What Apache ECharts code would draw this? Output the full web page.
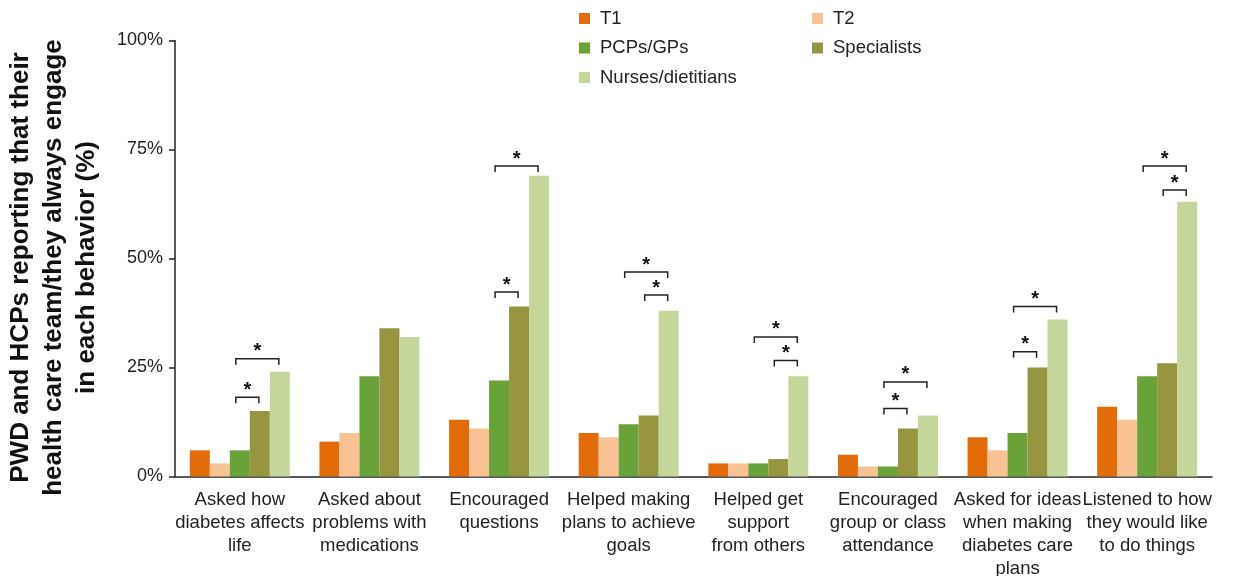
<!DOCTYPE html>
<html>
<head>
<meta charset="utf-8">
<script src="https://cdn.jsdelivr.net/npm/echarts@6/dist/echarts.min.js"></script>
<style>
  html, body { margin: 0; padding: 0; background: #fff; }
  #chart { width: 1235px; height: 576px; }
</style>
</head>
<body>
<div id="chart"></div>
<script>
// categories (x axis)
var behaviors = [
  'Asked how\ndiabetes affects\nlife',
  'Asked about\nproblems with\nmedications',
  'Encouraged\nquestions',
  'Helped making\nplans to achieve\ngoals',
  'Helped get\nsupport\nfrom others',
  'Encouraged\ngroup or class\nattendance',
  'Asked for ideas\nwhen making\ndiabetes care\nplans',
  'Listened to how\nthey would like\nto do things'
];
var seriesNames = ['T1', 'T2', 'PCPs/GPs', 'Specialists', 'Nurses/dietitians'];

// values in %
var t1 = [6, 8, 13, 10, 3, 5, 9, 16];
var t2 = [3, 10, 11, 9, 3, 2.3, 6, 13];
var pcps = [6, 23, 22, 12, 3, 2.3, 10, 23];
var specialists = [15, 34, 39, 14, 4, 11, 25, 26];
var nurses = [24, 32, 69, 38, 23, 14, 36, 63];

var yTicks = [0, 25, 50, 75, 100];

// significance brackets: category index, from bar, to bar (0..4), height in %
var bracketCat = [0, 0, 2, 2, 3, 3, 4, 4, 5, 5, 6, 6, 7, 7];
var bracketFrom = [2, 2, 2, 2, 2, 3, 2, 3, 2, 2, 2, 2, 2, 3];
var bracketTo = [3, 4, 3, 4, 4, 4, 4, 4, 3, 4, 3, 4, 4, 4];
var bracketY = [18.2, 27, 42.3, 71.2, 46.9, 41.6, 32, 26.6, 15.6, 21.7, 28.6, 39, 71.2, 65.7];

var colors = ['#E26B0A', '#F9C293', '#68A239', '#979540', '#C4D79B'];
var barW = 20;
var font = 'Liberation Sans, Arial, sans-serif';

var values = [t1, t2, pcps, specialists, nurses];
var barSeries = values.map(function (v, i) {
  return {
    name: seriesNames[i],
    type: 'bar',
    data: v,
    barWidth: barW,
    barGap: '0%',
    itemStyle: { color: colors[i] }
  };
});

var bracketData = bracketCat.map(function (c, i) {
  return [c, bracketFrom[i], bracketTo[i], bracketY[i]];
});

function renderBracket(params, api) {
  var c = api.value(0);
  var p = api.coord([c, api.value(3)]);
  var x1 = p[0] + (api.value(1) - 2) * barW - 4;
  var x2 = p[0] + (api.value(2) - 2) * barW - 1;
  var y = p[1];
  return {
    type: 'group',
    children: [
      {
        type: 'polyline',
        shape: { points: [[x1, y + 6], [x1, y], [x2, y], [x2, y + 6]] },
        style: { stroke: '#222', lineWidth: 1.5, fill: null }
      },
      {
        type: 'text',
        style: {
          text: '*', x: (x1 + x2) / 2, y: y - 7,
          align: 'center', verticalAlign: 'middle',
          font: 'bold 20px ' + font, fill: '#111'
        }
      }
    ]
  };
}

var legendCommon = {
  orient: 'vertical', top: 9, padding: 0,
  itemWidth: 11, itemHeight: 11, itemGap: 10.5, icon: 'rect',
  textStyle: { fontSize: 18.5, color: '#222', padding: [0, 0, 0, 5] }
};

var chart = echarts.init(document.getElementById('chart'));
chart.setOption({
  animation: false,
  textStyle: { fontFamily: font },
  grid: { left: 175, right: 23, top: 40.5, bottom: 99.5, outerBoundsMode: 'none' },
  legend: [
    Object.assign({ data: ['T1', 'PCPs/GPs', 'Nurses/dietitians'], left: 579 }, legendCommon),
    Object.assign({ data: ['T2', 'Specialists'], left: 812 }, legendCommon)
  ],
  xAxis: {
    type: 'category',
    data: behaviors,
    axisLine: { lineStyle: { color: '#222', width: 1.5 } },
    axisTick: { length: 6, lineStyle: { color: '#222', width: 1.5 } },
    axisLabel: { interval: 0, fontSize: 18.5, color: '#222', lineHeight: 23, margin: 12 }
  },
  yAxis: {
    type: 'value',
    min: yTicks[0], max: yTicks[yTicks.length - 1], interval: 25,
    name: 'PWD and HCPs reporting that their\nhealth care team/they always engage\nin each behavior (%)',
    nameLocation: 'middle', nameGap: 72,
    nameTextStyle: { fontSize: 26, fontWeight: 'bold', color: '#111', lineHeight: 33, padding: [0, 18, 0, 0] },
    axisLine: { show: true, lineStyle: { color: '#222', width: 1.5 } },
    axisTick: { show: true, length: 6, lineStyle: { color: '#222', width: 1.5 } },
    axisLabel: { formatter: '{value}%', fontSize: 18, color: '#222', margin: 12 },
    splitLine: { show: false }
  },
  series: barSeries.concat([{
    type: 'custom',
    renderItem: renderBracket,
    data: bracketData,
    encode: { x: 0, y: 3 },
    clip: false,
    z: 10,
    silent: true
  }])
});
</script>
</body>
</html>
